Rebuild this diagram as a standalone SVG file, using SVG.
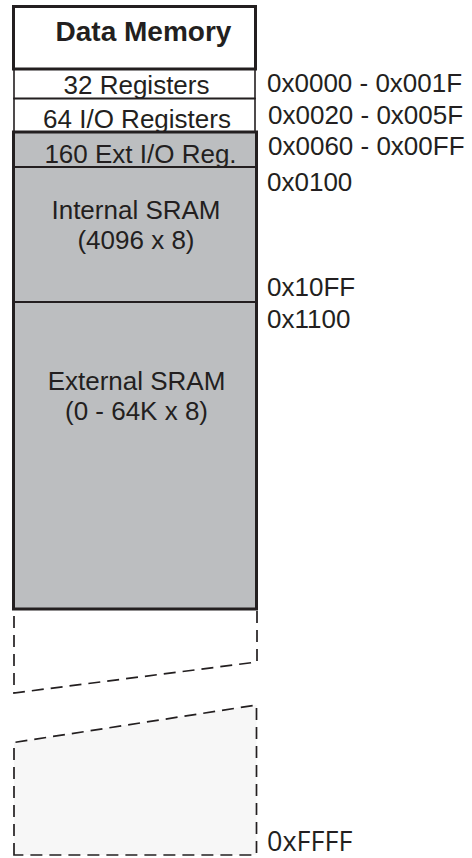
<svg xmlns="http://www.w3.org/2000/svg" width="472" height="858" viewBox="0 0 472 858">
<style>
.t{font-family:"Liberation Sans",Arial,sans-serif;font-size:26px;fill:#231f20}
.c{text-anchor:middle}
.b{font-weight:bold;font-size:28px}
.h{font-family:"Liberation Sans",Arial,sans-serif;font-size:26px;fill:#231f20}
.m{font-family:"Open Sans","DejaVu Sans",sans-serif;font-size:27px;fill:#231f20}
.thin{fill:none;stroke:#231f20;stroke-width:1.6}
.dash{stroke:#231f20;stroke-width:1.7;stroke-dasharray:12 7}
</style>
<rect width="472" height="858" fill="#ffffff"/>
<g id="header">
<rect x="13.5" y="6.5" width="242" height="62.5" fill="#ffffff" stroke="#231f20" stroke-width="3"/>
<text class="t b" x="143.5" y="41" text-anchor="middle">Data Memory</text>
</g>
<g id="reg32">
<rect x="14" y="69" width="241" height="29.5" fill="#ffffff" class="thin"/>
<text class="t c" x="136.5" y="94">32 Registers</text>
</g>
<g id="reg64">
<rect x="14" y="98.5" width="241" height="33.5" fill="#ffffff" class="thin"/>
<text class="t c" x="137" y="128">64 I/O Registers</text>
</g>
<g id="sram-block">
<rect x="13.5" y="132" width="243" height="477" fill="#bcbec0" stroke="#231f20" stroke-width="3"/>
</g>
<g id="extio">
<line x1="13.5" y1="167" x2="256.5" y2="167" stroke="#231f20" stroke-width="2"/>
<text class="t c" x="140.5" y="163">160 Ext I/O Reg.</text>
</g>
<g id="internal-sram">
<line x1="13.5" y1="302" x2="256.5" y2="302" stroke="#231f20" stroke-width="1.8"/>
<text class="t c" x="136" y="219" font-size="26.5">Internal SRAM</text>
<text class="t c" x="136" y="249" font-size="26.5">(4096 x 8)</text>
</g>
<g id="external-sram">
<text class="t c" x="136.5" y="390" font-size="26.5">External SRAM</text>
<text class="t c" x="136.5" y="420" font-size="26.5">(0 - 64K x 8)</text>
</g>
<g id="gap-upper">
<path class="dash" fill="none" d="M257,611 V662 L14,693 V611"/>
</g>
<g id="gap-lower">
<path class="dash" fill="#f7f7f7" d="M14,855 V742.5 L256.5,705 V855 Z"/>
</g>
<g id="addresses">
<text class="h" x="267" y="92">0x0000 - 0x001F</text>
<text class="h" x="268" y="124">0x0020 - 0x005F</text>
<text class="h" x="268" y="155">0x0060 - 0x00FF</text>
<text class="h" x="267" y="191">0x0100</text>
<text class="h" x="267" y="296">0x10FF</text>
<text class="h" x="267" y="328">0x1100</text>
<text class="m" x="267" y="851">0xFFFF</text>
</g>
<g id="connectors"/>
</svg>
